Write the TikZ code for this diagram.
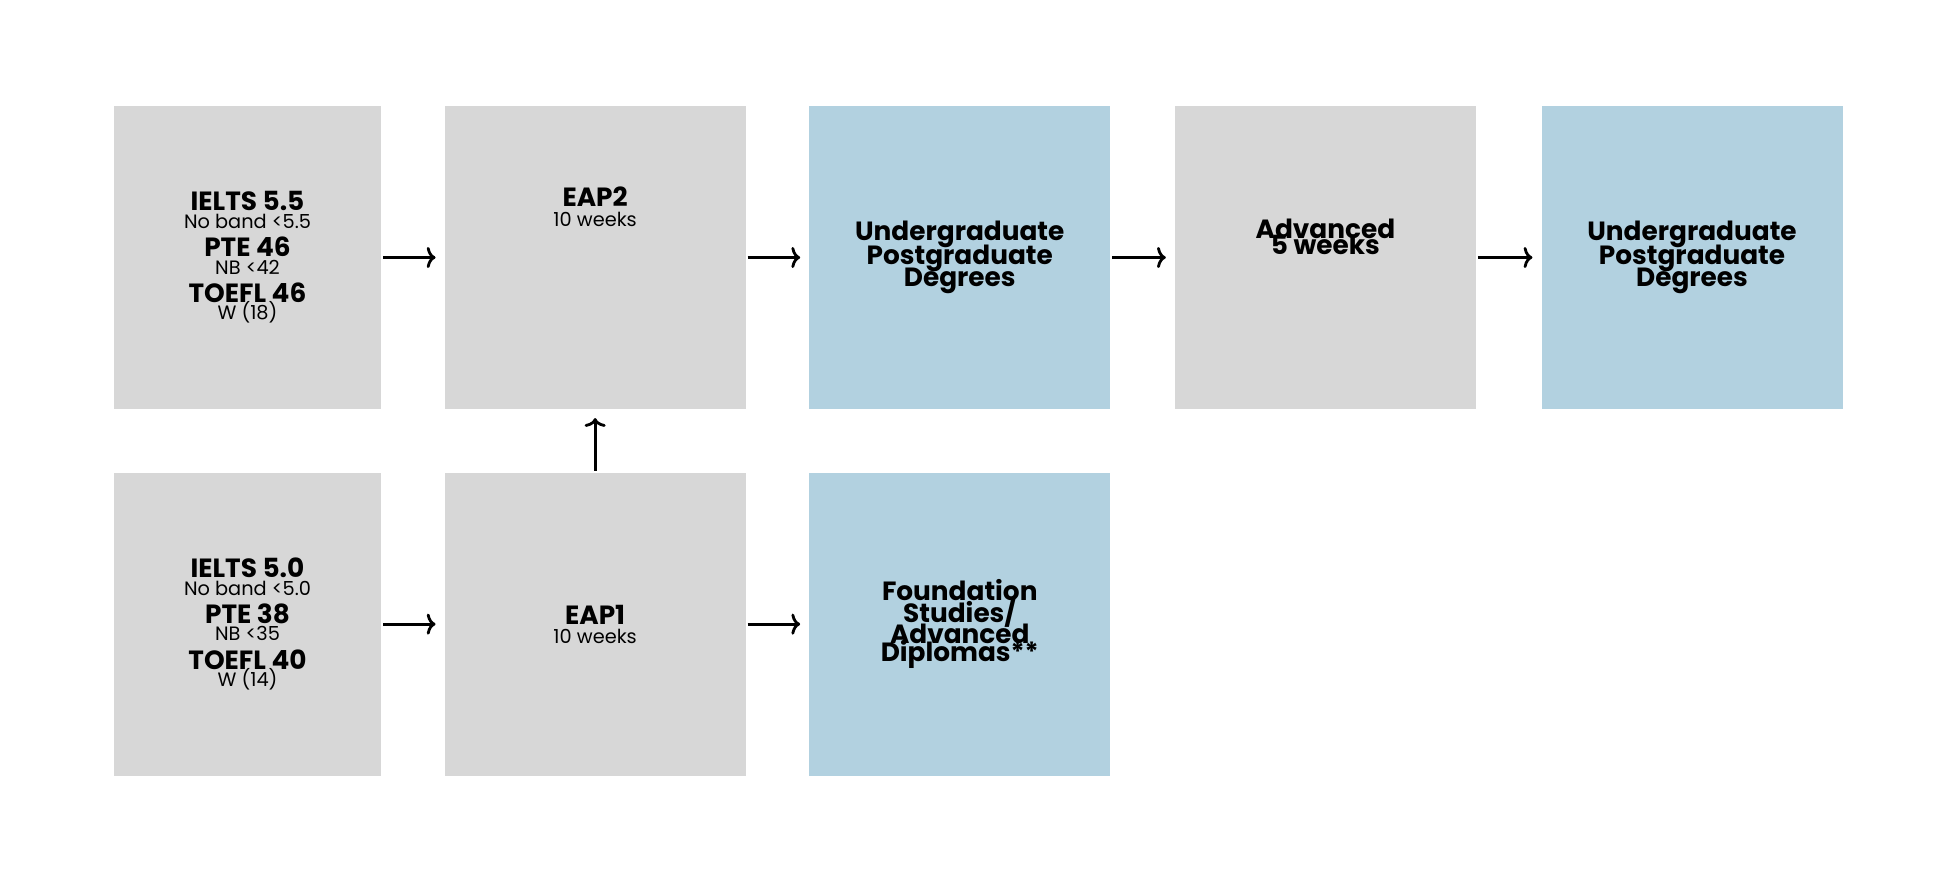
\documentclass[tikz,border=0pt]{standalone}
\usepackage{fontspec}
\setmainfont{Poppins}
\usetikzlibrary{positioning,arrows.meta}
\definecolor{boxgray}{RGB}{215,215,215}
\definecolor{boxblue}{RGB}{178,209,224}
\newcommand{\hd}[1]{{\fontsize{15}{17}\selectfont\bfseries #1}}
\newcommand{\sm}[1]{{\fontsize{11}{13}\selectfont #1}}

\begin{document}
\begin{tikzpicture}[x=0.02cm,y=0.02cm,
  stage/.style={fill=boxgray,minimum width=6.02cm,minimum height=6.06cm,align=center,inner sep=0pt},
  entry/.style={stage,minimum width=5.34cm},
  goal/.style={stage,fill=boxblue},
  flow/.style={-{To[length=5pt,width=12pt]},line width=1.6pt,shorten <=1pt,shorten >=5pt}]
  \useasboundingbox (0,0) rectangle (1950,-886);
  % top row
  \node (E2in) [entry] at (247.5,-257.5) {\hd{IELTS 5.5}\\[-2pt]\sm{No band <5.5}\\[4pt]
    \hd{PTE 46}\\[-2pt]\sm{NB <42}\\[4pt]\hd{TOEFL 46}\\[-2pt]\sm{W (18)}};
  \node (EAP2) [stage,right=1.26cm of E2in] {\hd{EAP2}\\[-1pt]\sm{10 weeks}\\[46pt]};
  \node (Deg1) [goal,right=1.26cm of EAP2] {\hd{Undergraduate}\\[-3pt]\hd{Postgraduate}\\[-3pt]\hd{Degrees}};
  \node (Adv) [stage,right=1.28cm of Deg1] {\hd{Advanced}\\[-3pt]\hd{5 weeks}\\[12pt]};
  \node (Deg2) [goal,right=1.30cm of Adv] {\hd{Undergraduate}\\[-3pt]\hd{Postgraduate}\\[-3pt]\hd{Degrees}};
  % bottom row
  \node (E1in) [entry,below=1.26cm of E2in] {\hd{IELTS 5.0}\\[-2pt]\sm{No band <5.0}\\[4pt]
    \hd{PTE 38}\\[-2pt]\sm{NB <35}\\[4pt]\hd{TOEFL 40}\\[-2pt]\sm{W (14)}};
  \node (EAP1) [stage,below=1.26cm of EAP2] {\hd{EAP1}\\[-1pt]\sm{10 weeks}};
  \node (Fnd) [goal,below=1.26cm of Deg1] {\hd{Foundation}\\[-3pt]\hd{Studies/}\\[-3pt]\hd{Advanced}\\[-3pt]\hd{Diplomas**}};

  \draw[flow] (E2in) -- (EAP2);
  \draw[flow] (EAP2) -- (Deg1);
  \draw[flow] (Deg1) -- (Adv);
  \draw[flow] (Adv) -- (Deg2);
  \draw[flow] (E1in) -- (EAP1);
  \draw[flow] (EAP1) -- (Fnd);
  \draw[flow] (EAP1) -- (EAP2);
\end{tikzpicture}
\end{document}
